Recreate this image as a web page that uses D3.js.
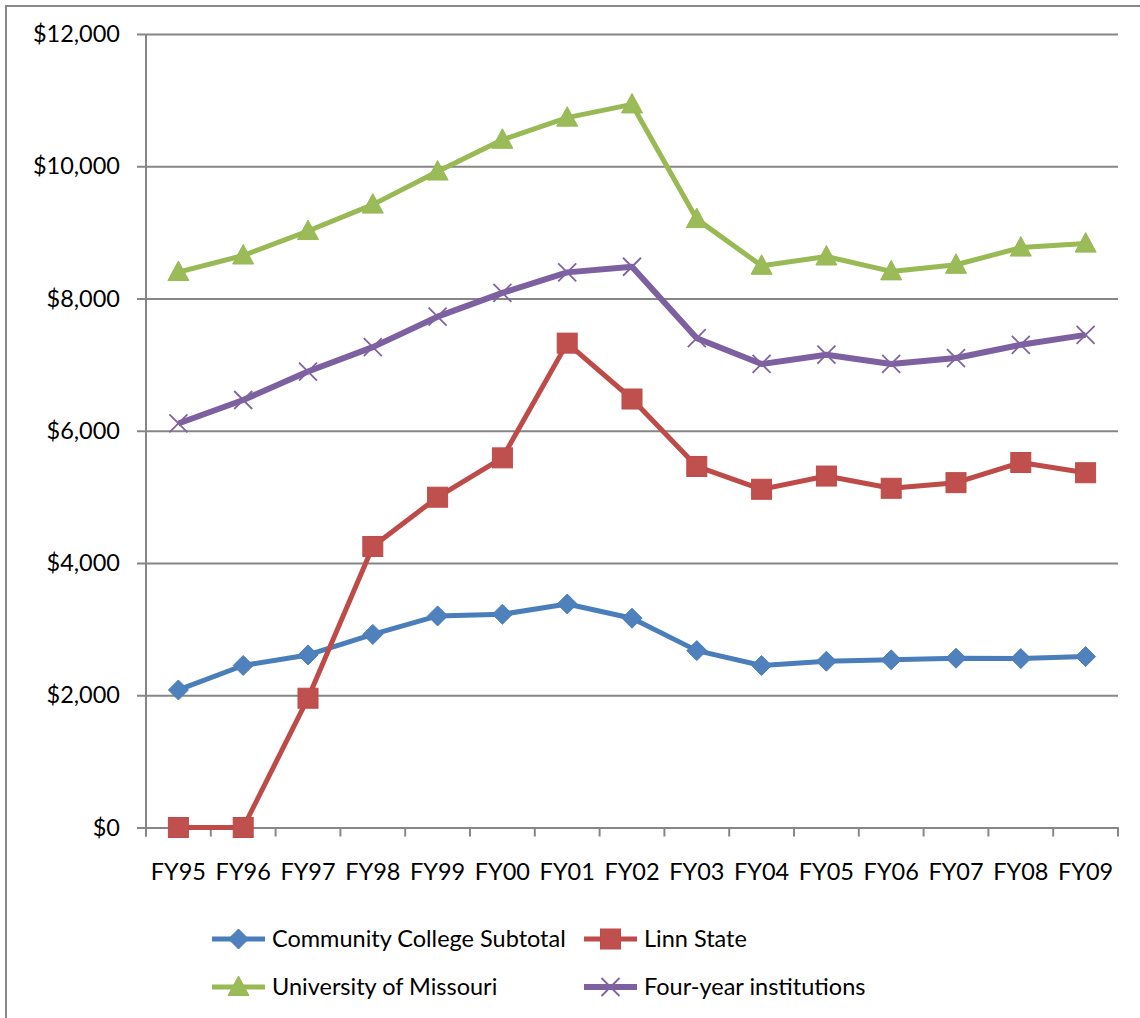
<!DOCTYPE html>
<html>
<head>
<meta charset="utf-8">
<script src="https://cdn.jsdelivr.net/npm/d3@7"></script>
<style>
  html, body { margin: 0; padding: 0; background: #fff; }
  svg { display: block; }
  text { font-family: Lato, "Open Sans", sans-serif; fill: #000; }
</style>
</head>
<body>
<svg id="chart" width="1140" height="1018"></svg>
<script>
const categories = ["FY95","FY96","FY97","FY98","FY99","FY00","FY01","FY02","FY03","FY04","FY05","FY06","FY07","FY08","FY09"];
const communityCollege = [2080, 2450, 2610, 2920, 3200, 3225, 3380, 3165, 2675, 2450, 2515, 2535, 2560, 2555, 2585];
const linnState = [0, 0, 1955, 4250, 4995, 5590, 7325, 6480, 5460, 5115, 5315, 5130, 5215, 5520, 5365];
const univMissouri = [8400, 8650, 9020, 9420, 9920, 10400, 10735, 10935, 9200, 8495, 8635, 8410, 8510, 8770, 8830];
const fourYear = [6110, 6465, 6895, 7265, 7725, 8085, 8395, 8480, 7400, 7010, 7150, 7010, 7100, 7300, 7450];
const yTicks = [0, 2000, 4000, 6000, 8000, 10000, 12000];
const seriesNames = ["Community College Subtotal", "Linn State", "University of Missouri", "Four-year institutions"];

const series = [
  { name: seriesNames[0], values: communityCollege, line: "#4A7EBB", fill: "#4F81BD", marker: "diamond", width: 5 },
  { name: seriesNames[1], values: linnState, line: "#BE4B48", fill: "#C0504D", marker: "square", width: 5 },
  { name: seriesNames[2], values: univMissouri, line: "#98B954", fill: "#9BBB59", marker: "triangle", width: 5 },
  { name: seriesNames[3], values: fourYear, line: "#7D60A0", fill: "#8064A2", marker: "x", width: 6 }
];

const svg = d3.select("#chart");
const gridColor = "#868686";
const fontSize = 23.5;

// outer chart border (extends beyond the visible frame)
svg.append("rect").attr("x", 6).attr("y", 6).attr("width", 1160).attr("height", 1040)
  .attr("fill", "none").attr("stroke", "#898989").attr("stroke-width", 2);

const plotLeft = 146, plotRight = 1118, plotTop = 34, plotBottom = 827.5;
const x = d3.scaleBand().domain(categories).range([plotLeft, plotRight]);
const y = d3.scaleLinear().domain([0, 12000]).range([plotBottom, plotTop]);
const cx = c => x(c) + x.bandwidth() / 2;

// Y axis with gridlines
const yAxis = d3.axisLeft(y).tickValues(yTicks).tickFormat(d3.format("$,.0f"))
  .tickSize(-(plotRight - plotLeft)).tickSizeOuter(0).tickPadding(26);
const gy = svg.append("g").attr("transform", `translate(${plotLeft},0)`).call(yAxis);
gy.select(".domain").remove();
gy.selectAll(".tick line").attr("stroke", gridColor).attr("stroke-width", 2).attr("x1", -9);
gy.selectAll(".tick text").attr("font-size", fontSize).attr("font-family", "Lato, sans-serif").attr("fill", "#000");

// vertical axis line
svg.append("line").attr("x1", plotLeft).attr("x2", plotLeft).attr("y1", plotTop).attr("y2", plotBottom + 9)
  .attr("stroke", gridColor).attr("stroke-width", 2);

// X axis
const xAxis = d3.axisBottom(x).tickSize(0).tickPadding(36);
const gx = svg.append("g").attr("transform", `translate(0,${plotBottom})`).call(xAxis);
gx.select(".domain").attr("stroke", gridColor).attr("stroke-width", 2);
gx.selectAll(".tick text").attr("font-size", fontSize).attr("font-family", "Lato, sans-serif").attr("fill", "#000");
// boundary tick marks
const bounds = categories.map(c => x(c)).concat([plotRight]);
svg.append("g").selectAll("line").data(bounds).join("line")
  .attr("x1", d => d).attr("x2", d => d).attr("y1", plotBottom).attr("y2", plotBottom + 9)
  .attr("stroke", gridColor).attr("stroke-width", 2);

function drawMarker(g, type, px, py, s) {
  if (type === "diamond") {
    g.append("path").attr("d", `M${px},${py-10}L${px+10},${py}L${px},${py+10}L${px-10},${py}Z`)
      .attr("fill", s.fill).attr("stroke", s.line).attr("stroke-width", 1);
  } else if (type === "square") {
    g.append("rect").attr("x", px - 10).attr("y", py - 10).attr("width", 20).attr("height", 20)
      .attr("fill", s.fill).attr("stroke", s.line).attr("stroke-width", 1);
  } else if (type === "triangle") {
    g.append("path").attr("d", `M${px},${py-11}L${px+10.5},${py+8.5}L${px-10.5},${py+8.5}Z`)
      .attr("fill", s.fill).attr("stroke", s.line).attr("stroke-width", 1);
  } else if (type === "x") {
    g.append("path").attr("d", `M${px-9},${py-9}L${px+9},${py+9}M${px+9},${py-9}L${px-9},${py+9}`)
      .attr("fill", "none").attr("stroke", s.fill).attr("stroke-width", 1.8);
  }
}

const lineGen = d3.line().x(d => cx(d.c)).y(d => y(d.v));
series.forEach(s => {
  const pts = categories.map((c, i) => ({ c, v: s.values[i] }));
  const g = svg.append("g");
  g.append("path").datum(pts).attr("d", lineGen).attr("fill", "none")
    .attr("stroke", s.line).attr("stroke-width", s.width).attr("stroke-linejoin", "round");
  pts.forEach(p => drawMarker(g, s.marker, cx(p.c), y(p.v), s));
});

// Legend
const legendPos = [
  { x: 212, y: 939 }, { x: 584, y: 939 },
  { x: 212, y: 987 }, { x: 584, y: 987 }
];
series.forEach((s, i) => {
  const lp = legendPos[i];
  const g = svg.append("g");
  g.append("line").attr("x1", lp.x).attr("x2", lp.x + 53).attr("y1", lp.y).attr("y2", lp.y)
    .attr("stroke", s.line).attr("stroke-width", s.width);
  drawMarker(g, s.marker, lp.x + 26.5, lp.y, s);
  g.append("text").attr("x", lp.x + 60).attr("y", lp.y).attr("dy", "0.36em")
    .attr("font-size", fontSize).text(s.name);
});
</script>
</body>
</html>
